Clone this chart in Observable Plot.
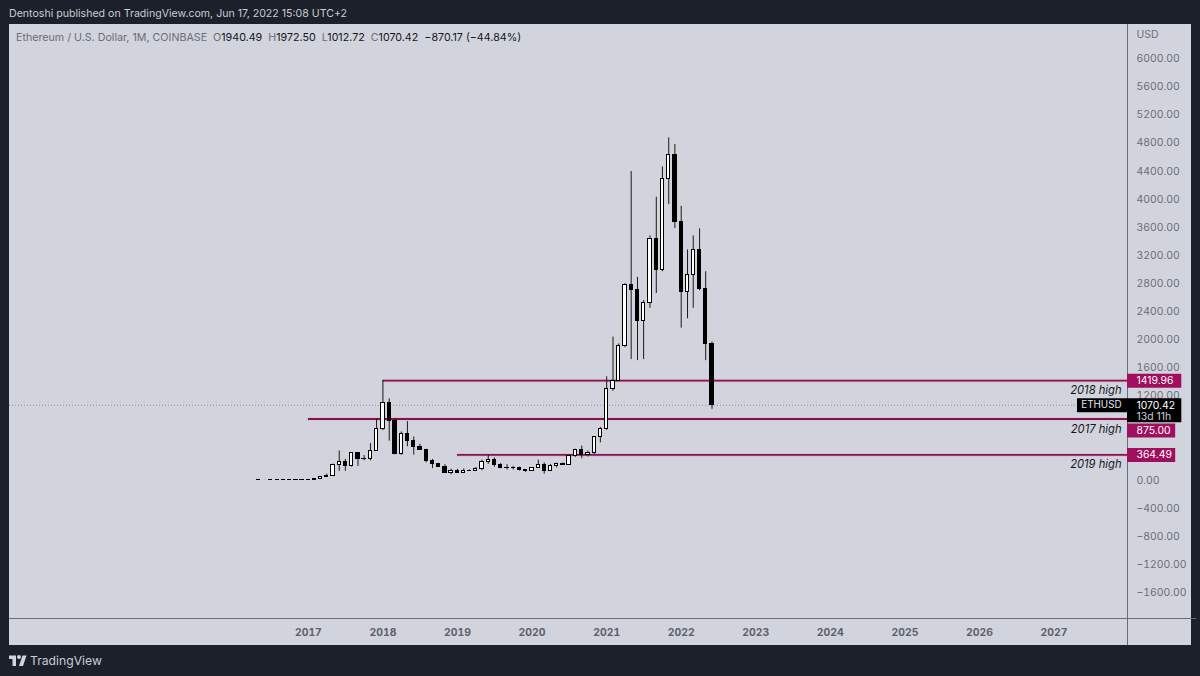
<!DOCTYPE html>
<html><head><meta charset="utf-8">
<script src="https://cdn.jsdelivr.net/npm/d3@7"></script>
<script src="https://cdn.jsdelivr.net/npm/@observablehq/plot@0.6"></script>
<style>
html,body{margin:0;padding:0;width:1200px;height:676px;overflow:hidden;background:#1c202b;font-family:Inter,"Noto Sans",sans-serif}
#pub{position:absolute;left:9px;top:6px;font-size:10.6px;line-height:16px;color:#c9ccd4;white-space:nowrap}
#panel{position:absolute;left:9px;top:24px;width:1182px;height:621px;background:#d1d4dc}
#legend{position:absolute;left:16px;top:30px;font-size:10.7px;line-height:16px;color:#6a6d78;white-space:pre}
#legend b{font-weight:400;color:#131722}
#brand{position:absolute;left:30px;top:652px;font-size:12.2px;line-height:18px;color:#c9ccd4}
#logo{position:absolute;left:9px;top:655px}
svg{overflow:visible}
</style></head><body>
<div id="pub">Dentoshi published on TradingView.com, Jun 17, 2022 15:08 UTC+2</div>
<div id="panel"></div>
<svg id="logo" width="18" height="11" viewBox="0 0 36 22"><path fill="#d1d4dc" d="M14 22H7V8H0V1h14zM28 22h-8l7-21h8zM20 8a4 4 0 1 0 0-8 4 4 0 0 0 0 8z"/></svg>
<div id="brand">TradingView</div>
<script>
const firstMonth = "2016-05-01";
const opens = [
  12,14,14,11.5,11.8,13,11,8.7,
  8,10.5,16,50,71,223,270,200,385,300,305,422,
  730,1105,844,380,664,569,470,436,275,232,198,113,
  133,107,137,141,160,268,290,218,172,180,183,152,
  130,180,226,132,207,232,226,346,433,360,386,616,
  737,1305,1422,1920,2775,2705,2270,2527,3438,3000,4290,4630,
  3675,2688,2918,3281,2727,1940];
const highs = [
  15,15,15,13,13,14,12,10,
  11,17,52,90,232,420,300,390,395,355,525,880,
  1420,1160,880,690,838,620,515,445,300,235,225,160,
  160,165,150,185,290,360,320,240,225,200,190,155,
  180,290,250,228,247,250,350,445,490,420,625,755,
  1475,2040,1943,2800,4396,2890,2560,3480,4030,4460,4875,4780,
  3900,3280,3480,3580,2970,1972.5];
const lows = [
  11,12,10,10,10,10,8,6,
  7,10,15,45,70,130,130,190,200,280,280,420,
  710,560,365,360,480,360,430,250,170,190,100,82,
  100,100,130,140,140,230,190,165,150,150,135,117,
  127,180,90,130,180,215,222,330,310,335,370,535,
  715,1270,1422,1890,1720,1705,1720,2450,2660,2970,3925,3585,
  2167,2300,2450,2700,1705,1012.72];
const closes = [
  14,14,11.5,11.8,13,11,8.7,8,
  10.5,16,50,71,223,270,200,385,300,305,422,730,
  1105,844,380,664,569,470,436,275,232,198,113,133,
  107,137,141,160,268,290,218,172,180,183,152,130,
  180,226,132,207,232,226,346,433,360,386,616,737,
  1305,1412,1920,2775,2705,2270,2527,3438,3000,4290,4630,3675,
  2688,2918,3281,2727,1940,1070.42];

const yearTicks = ["2017","2018","2019","2020","2021","2022","2023","2024","2025","2026","2027"];
const priceTicks = [6000,5600,5200,4800,4400,4000,3600,3200,2800,2400,2000,1600,1200,0,-400,-800,-1200,-1600];

const levelValues = [1419.96,875,364.49];
const levelStarts = ["2018-01-01","2017-01-01","2019-01-01"];
const levelNotes = ["2018 high","2017 high","2019 high"];
const levelTags = ["1419.96","875.00","364.49"];
const lastPrice = 1070.42;

const utc = s => new Date(s + (s.length===4 ? "-01-01" : "") + "T00:00:00Z");
const xDomain = [utc("2012-12-29"), utc("2027-12-27")];
const yDomain = [-1963, 6487];

const start = utc(firstMonth);
const candles = closes.map((c,i)=>({
  date:d3.utcMonth.offset(start,i), open:opens[i], high:highs[i], low:lows[i], close:c
}));
const levels = levelValues.map((v,i)=>({value:v,start:utc(levelStarts[i]),note:levelNotes[i],tag:levelTags[i]}));

const chart = Plot.plot({
  width:1182, height:621,
  marginLeft:0, marginRight:64, marginTop:0, marginBottom:27,
  x:{type:"utc",domain:xDomain,label:null},
  y:{type:"linear",domain:yDomain,label:null},
  style:{background:"transparent",fontFamily:"Inter, 'Noto Sans', sans-serif",fontSize:"10.4px",overflow:"visible"},
  marks:[
    Plot.axisY(priceTicks,{anchor:"right",tickSize:0,tickPadding:9,label:null,fill:"#6a6d78",fontSize:10.4,
      tickFormat:d=>(d<0?"\u2212":"")+Math.abs(d).toFixed(2)}),
    Plot.text(["USD"],{frameAnchor:"top-right",dx:9,dy:6,lineAnchor:"top",textAnchor:"start",fill:"#6a6d78",fontSize:10.4,text:d=>d}),
    Plot.axisX(yearTicks.map(utc),{anchor:"bottom",tickSize:0,tickPadding:10,label:null,fill:"#5d606b",fontWeight:700,fontSize:10.4,
      tickFormat:d3.utcFormat("%Y")}),
    // pane borders
    Plot.ruleX([xDomain[1]],{y1:yDomain[1],y2:yDomain[0]-385,stroke:"#6a6d78",strokeWidth:1}),
    Plot.ruleY([yDomain[0]],{x1:xDomain[0],x2:utc("2028-12-01"),stroke:"#6a6d78",strokeWidth:1}),
    // last price dotted line
    Plot.ruleY([lastPrice],{x1:xDomain[0],x2:xDomain[1],stroke:"#8a8d96",strokeDasharray:"1 2",strokeWidth:1}),
    // level lines
    Plot.ruleY(levels,{y:"value",x1:"start",x2:xDomain[1],stroke:"#e9a6c8",strokeWidth:3.6,strokeOpacity:0.55}),
    Plot.ruleY(levels,{y:"value",x1:"start",x2:xDomain[1],stroke:"#80154f",strokeWidth:1.8}),
    // candles
    Plot.ruleX(candles,{x:"date",y1:"low",y2:"high",stroke:"#1a1a1a",strokeWidth:1}),
    Plot.rect(candles,{
      x1:d=>d3.utcDay.offset(d.date,-8), x2:d=>d3.utcDay.offset(d.date,8),
      y1:"open", y2:"close",
      fill:d=>d.close>=d.open?"#ffffff":"#000000", stroke:"#000000", strokeWidth:1, shapeRendering:"crispEdges"
    }),
    // level notes
    Plot.text(levels,{y:"value",text:"note",frameAnchor:"right",dx:-6,dy:10,textAnchor:"end",fontStyle:"italic",fill:"#131722",fontSize:11.2}),
    // price tags
    Plot.ruleY([levels[0]],{y:"value",x1:xDomain[1],x2:utc("2028-09-18"),stroke:"#a00f5e",strokeWidth:14}),
    Plot.ruleY([levels[1]],{y:"value",dy:11.5,x1:xDomain[1],x2:utc("2028-08-19"),stroke:"#a00f5e",strokeWidth:14}),
    Plot.ruleY([levels[2]],{y:"value",x1:xDomain[1],x2:utc("2028-08-19"),stroke:"#a00f5e",strokeWidth:14}),
    Plot.ruleY([lastPrice],{x1:utc("2027-04-26"),x2:xDomain[1],stroke:"#000",strokeWidth:14}),
    Plot.ruleY([lastPrice],{x1:xDomain[1],x2:utc("2028-09-18"),dy:5,stroke:"#000",strokeWidth:24}),
    Plot.text(levels,{y:"value",text:"tag",frameAnchor:"right",dx:9,textAnchor:"start",fill:"#fff",fontSize:10.4,
      filter:d=>d.tag!=="875.00"}),
    Plot.text(levels,{y:"value",text:"tag",frameAnchor:"right",dx:9,dy:11.5,textAnchor:"start",fill:"#fff",fontSize:10.4,
      filter:d=>d.tag==="875.00"}),
    Plot.text(["ETHUSD"],{y:lastPrice,text:d=>d,frameAnchor:"right",dx:-6,textAnchor:"end",fill:"#e6e7ea",fontSize:9.8}),
    Plot.text([lastPrice],{y:d=>d,text:d=>d.toFixed(2),frameAnchor:"right",dx:9,textAnchor:"start",fill:"#fff",fontSize:10.4}),
    Plot.text(["13d 11h"],{y:lastPrice,text:d=>d,frameAnchor:"right",dx:9,dy:11,textAnchor:"start",fill:"#c9ccd4",fontSize:10.4})
  ]
});
document.getElementById("panel").appendChild(chart);
const legend=document.createElement("div");
legend.id="legend";
legend.innerHTML='Ethereum / U.S. Dollar, 1M, COINBASE  O<b>1940.49</b>  H<b>1972.50</b>  L<b>1012.72</b>  C<b>1070.42</b>  <b>\u2212870.17 (\u221244.84%)</b>';
document.body.appendChild(legend);
</script>
</body></html>
